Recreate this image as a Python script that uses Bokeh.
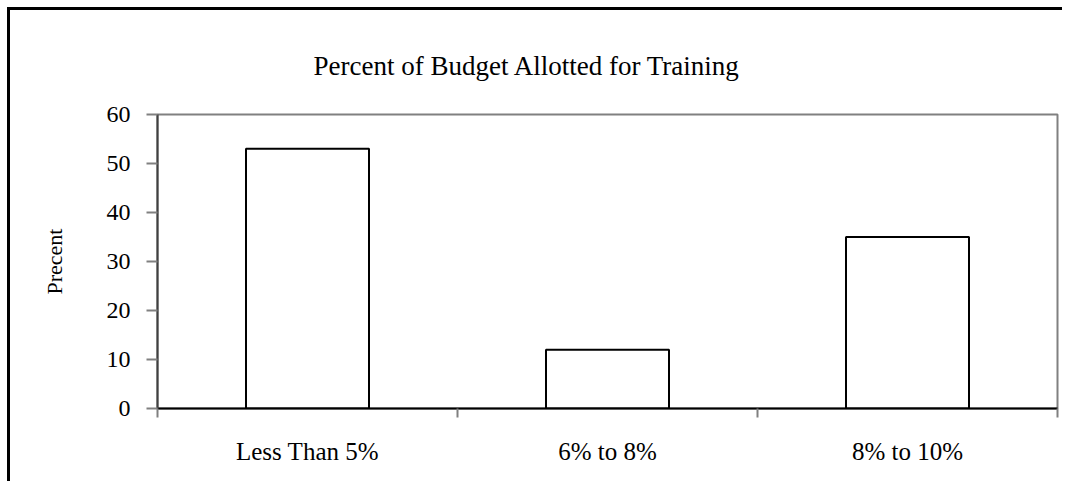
from bokeh.plotting import figure
from bokeh.models import Range1d, LinearAxis, FixedTicker
from bokeh.embed import file_html
from bokeh.resources import INLINE

categories = ["Less Than 5%", "6% to 8%", "8% to 10%"]
values = [53, 12, 35]
y_ticks = [0, 10, 20, 30, 40, 50, 60]
title_text = "Percent of Budget Allotted for Training"
y_label = "Precent"

FONT = "Liberation Serif"
W, H = 1055, 474

p = figure(x_range=categories, y_range=Range1d(0, 60), width=W, height=H,
           output_backend="svg", toolbar_location=None, x_axis_location=None,
           min_border_left=147, min_border_top=104, min_border_right=W - 1047,
           min_border_bottom=H - 398)
p.styles = {"border-top": "3px solid black", "border-left": "3px solid black",
            "margin-left": "7px", "margin-top": "7px"}
p.background_fill_color = "white"
p.border_fill_color = "white"
p.outline_line_color = "#808080"
p.outline_line_width = 2
p.grid.visible = False

p.title.text = title_text
p.title.text_font = FONT
p.title.text_font_size = "27px"
p.title.text_font_style = "normal"
p.title.text_color = "black"
p.title.align = "left"
p.title.offset = 156
p.title.standoff = 68

p.vbar(x=categories, top=values, width=0.41, fill_color="white",
       line_color="black", line_width=2)

# axis on the factor range's synthetic coordinates: labels at category centres,
# tick marks at category boundaries
xax = LinearAxis(ticker=FixedTicker(ticks=[i + 0.5 for i in range(len(categories))],
                                    minor_ticks=list(range(len(categories) + 1))),
                 major_label_overrides={i + 0.5: c for i, c in enumerate(categories)})
xax.axis_line_color = "black"
xax.axis_line_width = 2
xax.major_tick_line_color = None
xax.major_tick_out = 9
xax.major_tick_in = 0
xax.minor_tick_line_color = "#808080"
xax.minor_tick_line_width = 2
xax.minor_tick_out = 9
xax.minor_tick_in = 0
xax.major_label_standoff = 20
xax.major_label_text_font = FONT
xax.major_label_text_font_size = "25px"
xax.major_label_text_color = "black"
p.add_layout(xax, "below")

yax = p.yaxis[0]
yax.ticker = FixedTicker(ticks=y_ticks)
yax.axis_line_color = "#404040"
yax.axis_line_width = 2
yax.major_tick_line_color = "#808080"
yax.major_tick_line_width = 2
yax.major_tick_out = 11
yax.major_tick_in = 0
yax.minor_tick_line_color = None
yax.major_label_standoff = 16
yax.major_label_text_font = FONT
yax.major_label_text_font_size = "24px"
yax.major_label_text_color = "black"
yax.axis_label = y_label
yax.axis_label_text_font = FONT
yax.axis_label_text_font_size = "22px"
yax.axis_label_text_font_style = "normal"
yax.axis_label_text_color = "black"
yax.axis_label_standoff = 37

open("out.html", "w").write(file_html(p, INLINE))
